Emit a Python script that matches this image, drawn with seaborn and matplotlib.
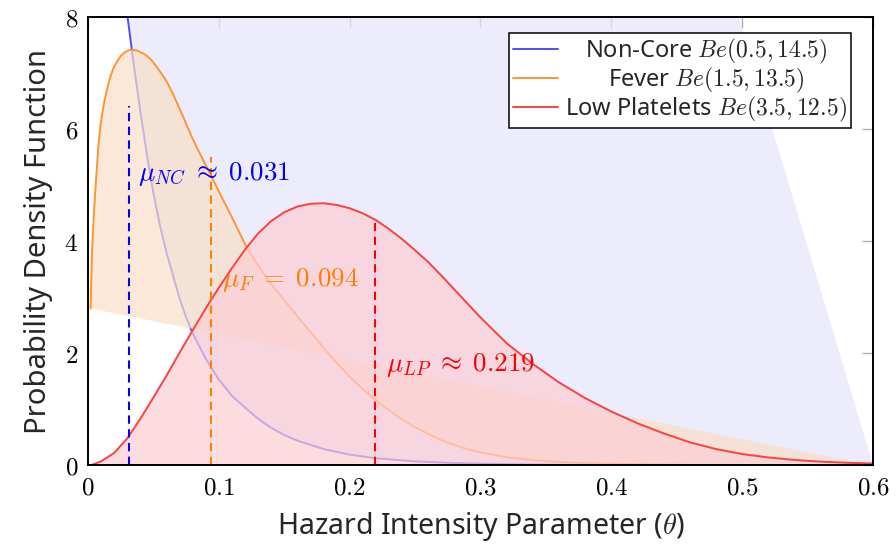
import matplotlib
matplotlib.use("Agg")
import matplotlib.pyplot as plt
import seaborn as sns
from matplotlib.lines import Line2D
from matplotlib.ticker import FuncFormatter, MultipleLocator
from matplotlib.transforms import Affine2D

# densities (theta, pdf)
theta_nc = [0.002, 0.005, 0.01, 0.015, 0.02, 0.025, 0.03, 0.035, 0.04, 0.045,
            0.05, 0.055, 0.06, 0.065, 0.07, 0.075, 0.08, 0.09, 0.10, 0.11,
            0.12, 0.13, 0.14, 0.15, 0.16, 0.18, 0.20, 0.22, 0.25, 0.28,
            0.32, 0.36, 0.42, 0.50, 0.60]
pdf_nc = [46.7, 29.5, 20.5, 14.5, 11.6, 9.6, 8.05, 7.15, 6.32, 5.55,
          4.86, 4.28, 3.80, 3.39, 2.98, 2.64, 2.36, 1.90, 1.53, 1.24,
          1.03, 0.83, 0.67, 0.54, 0.44, 0.29, 0.19, 0.125, 0.07, 0.04,
          0.02, 0.01, 0.004, 0.001, 0.0]

theta_f = [0.002, 0.003, 0.0045, 0.006, 0.008, 0.010, 0.0125, 0.015, 0.0175, 0.020,
           0.0225, 0.025, 0.028, 0.031, 0.034, 0.037, 0.040, 0.044, 0.048, 0.052,
           0.056, 0.060, 0.065, 0.070, 0.075, 0.080, 0.085, 0.090, 0.095, 0.100,
           0.105, 0.110, 0.115, 0.120, 0.125, 0.130, 0.135, 0.140, 0.150, 0.160,
           0.170, 0.180, 0.190, 0.200, 0.210, 0.220, 0.230, 0.240, 0.250, 0.260,
           0.270, 0.280, 0.290, 0.300, 0.320, 0.340, 0.360, 0.380, 0.400, 0.450,
           0.500, 0.550, 0.600]
pdf_f = [2.80, 3.75, 4.50, 5.05, 5.72, 6.15, 6.50, 6.76, 6.97, 7.12,
         7.22, 7.31, 7.37, 7.41, 7.42, 7.41, 7.38, 7.33, 7.25, 7.13,
         7.00, 6.86, 6.63, 6.37, 6.10, 5.83, 5.59, 5.36, 5.13, 4.89,
         4.66, 4.43, 4.19, 3.95, 3.75, 3.57, 3.40, 3.24, 2.95, 2.66,
         2.38, 2.10, 1.83, 1.58, 1.36, 1.16, 0.98, 0.82, 0.68, 0.56,
         0.45, 0.36, 0.29, 0.23, 0.145, 0.09, 0.06, 0.04, 0.026, 0.01,
         0.004, 0.001, 0.0]

theta_lp = [0.002, 0.01, 0.02, 0.03, 0.04, 0.05, 0.06, 0.07, 0.08, 0.09,
            0.10, 0.11, 0.12, 0.13, 0.14, 0.15, 0.16, 0.17, 0.18, 0.19,
            0.20, 0.21, 0.22, 0.23, 0.24, 0.25, 0.26, 0.27, 0.28, 0.29,
            0.30, 0.32, 0.34, 0.36, 0.38, 0.40, 0.42, 0.44, 0.46, 0.48,
            0.50, 0.52, 0.54, 0.56, 0.58, 0.60]
pdf_lp = [0.0, 0.07, 0.22, 0.48, 0.83, 1.21, 1.60, 2.01, 2.41, 2.80,
          3.17, 3.52, 3.85, 4.14, 4.36, 4.52, 4.62, 4.67, 4.68, 4.65,
          4.59, 4.50, 4.38, 4.22, 4.04, 3.84, 3.63, 3.39, 3.14, 2.89,
          2.64, 2.18, 1.81, 1.48, 1.20, 0.96, 0.75, 0.57, 0.41, 0.29,
          0.20, 0.14, 0.095, 0.065, 0.045, 0.032]

names = ["Non-Core", "Fever", "Low Platelets"]
params = ["$Be(0.5, 14.5)$", "$Be(1.5, 13.5)$", "$Be(3.5, 12.5)$"]
means = [0.031, 0.094, 0.219]
mean_pdf = [6.42, 5.51, 4.42]
mean_text = [r"$\mu_{NC}\;\approx\;0.031$", r"$\mu_F\;=\;0.094$", r"$\mu_{LP}\;\approx\;0.219$"]

line_cols = ["#4d4dff", "#ff9433", "#ff4040"]
fill_cols = ["#e4e4fd", "#fadfc8", "#fdced3"]
mean_cols = ["#0000ff", "#ff8000", "#ff0000"]

sns.set_theme(style="white")
plt.rcParams["font.family"] = ["Noto Sans", "DejaVu Sans"]
plt.rcParams["mathtext.fontset"] = "cm"

fig = plt.figure(figsize=(8.96, 5.44), dpi=100)
ax = fig.add_axes([0.0982, 0.1447, 0.8761, 0.8235])

series = [(theta_nc, pdf_nc), (theta_f, pdf_f), (theta_lp, pdf_lp)]
for i, (xs, ys) in enumerate(series):
    z = 2 + i
    ax.fill(xs, ys, color=fill_cols[i], alpha=0.7, lw=0, zorder=z)
    sns.lineplot(x=xs, y=ys, ax=ax, color=line_cols[i], lw=1.4,
                 sort=False, estimator=None, zorder=z + 0.5)

# dashed mean markers
for i in range(3):
    ax.vlines(means[i], 0, mean_pdf[i], colors=mean_cols[i], lw=1.5,
              linestyles=(0, (4, 2.6)), zorder=10)

ax.text(0.0382, 5.21, mean_text[0], color=mean_cols[0], fontsize=19.5, va="center", zorder=11)
ax.text(0.1022, 3.31, mean_text[1], color=mean_cols[1], fontsize=19.5, va="center", zorder=11)
ax.text(0.2281, 1.79, mean_text[2], color=mean_cols[2], fontsize=19.5, va="center", zorder=11)

ax.set_xlim(0, 0.6)
ax.set_ylim(0, 8)
ax.xaxis.set_major_locator(MultipleLocator(0.1))
ax.yaxis.set_major_locator(MultipleLocator(2))
ax.xaxis.set_major_formatter(FuncFormatter(lambda v, p: f"${v:.1f}$" if v > 0 else "$0$"))
ax.yaxis.set_major_formatter(FuncFormatter(lambda v, p: f"${v:g}$"))
ax.tick_params(axis="both", which="major", direction="in", length=8, width=1,
               color="#b0b0b0", labelsize=18, labelcolor="black", top=True, right=True, pad=7)
for s in ax.spines.values():
    s.set_color("black")
    s.set_linewidth(1.4)
    s.set_zorder(20)

ax.set_xlabel(r"Hazard Intensity Parameter ($\theta$)", fontsize=20.5, labelpad=7)
ax.set_ylabel("Probability Density Function", fontsize=21, labelpad=8)

handles = [Line2D([0], [0], color=c, lw=1.4) for c in line_cols]
labels = [f"{n} {p}" for n, p in zip(names, params)]
leg = ax.legend(handles, labels, loc="upper right", bbox_to_anchor=(0.972, 0.9656),
                borderaxespad=0, fontsize=17, frameon=True, fancybox=False,
                framealpha=1, edgecolor="black", handlelength=1.9, handletextpad=0.3,
                labelspacing=0.0, borderpad=0.18)
leg.get_frame().set_linewidth(1.1)
leg.set_zorder(30)

# centre the legend entries like pgfplots does
fig.canvas.draw()
renderer = fig.canvas.get_renderer()
texts = leg.get_texts()
widths = [t.get_window_extent(renderer).width for t in texts]
maxw = max(widths)
for t, w in zip(texts, widths):
    t.set_transform(t.get_transform() + Affine2D().translate((maxw - w) / 2, 0))

fig.savefig("out.png", dpi=100)
